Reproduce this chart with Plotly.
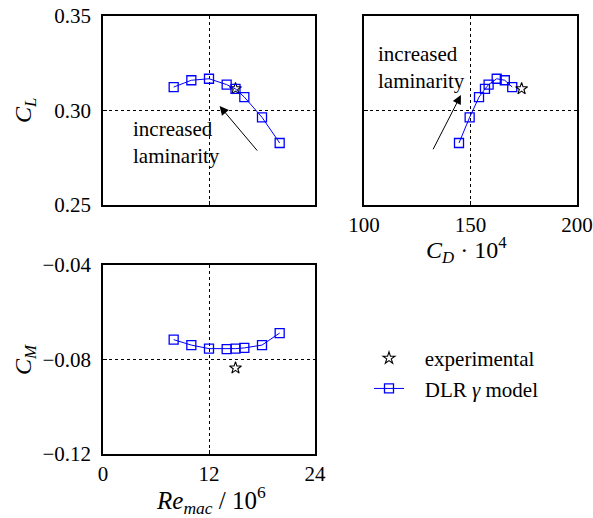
import plotly.graph_objects as go

# Reynolds-number sweep, DLR gamma transition model
re_mac = [8, 10, 12, 14, 15, 16, 18, 20]
cl_model = [0.3124, 0.3160, 0.3168, 0.3137, 0.3114, 0.3071, 0.2964, 0.2828]
cd_model = [169.6, 166.1, 162.3, 158.5, 156.8, 154.0, 149.6, 144.6]
cm_model = [-0.0716, -0.0739, -0.0754, -0.0756, -0.0754, -0.0751, -0.0739, -0.0688]

# wind-tunnel reference point
re_exp = [15]
cl_exp = [0.3115]
cd_exp = [174.0]
cm_exp = [-0.0836]

FONT = "'Liberation Serif', 'DejaVu Serif', serif"
W, H = 593, 518
BLUE = "#0000ff"

def px_x(p):
    return p / W

def px_y(p):
    return 1 - p / H

fig = go.Figure()

model_style = dict(mode="lines+markers",
                   line=dict(color=BLUE, width=1),
                   marker=dict(symbol="square-open", size=9, color=BLUE,
                               line=dict(width=1.3, color=BLUE)))
exp_style = dict(mode="markers",
                 marker=dict(symbol="star-open", size=9, color="black",
                             line=dict(width=1.1, color="black")))

# experimental traces first so they lead the legend
fig.add_trace(go.Scatter(x=re_exp, y=cl_exp, name="\u00a0\u00a0\u00a0experimental",
                         xaxis="x", yaxis="y", showlegend=True, **exp_style))
fig.add_trace(go.Scatter(x=re_mac, y=cl_model, name="\u00a0\u00a0\u00a0DLR <i>γ</i> model",
                         xaxis="x", yaxis="y", showlegend=True, **model_style))
fig.add_trace(go.Scatter(x=cd_model, y=cl_model, xaxis="x2", yaxis="y2",
                         showlegend=False, **model_style))
fig.add_trace(go.Scatter(x=cd_exp, y=cl_exp, xaxis="x2", yaxis="y2",
                         showlegend=False, **exp_style))
fig.add_trace(go.Scatter(x=re_mac, y=cm_model, xaxis="x3", yaxis="y3",
                         showlegend=False, **model_style))
fig.add_trace(go.Scatter(x=re_exp, y=cm_exp, xaxis="x3", yaxis="y3",
                         showlegend=False, **exp_style))

def axis(domain, rng, tickvals, ticktext, anchor, labels=True, standoff=6):
    return dict(domain=domain, range=rng, tickvals=tickvals, ticktext=ticktext,
                anchor=anchor, showline=True, mirror=True, linecolor="black",
                linewidth=1.6, ticks="inside", ticklen=4, tickcolor="black",
                showgrid=True, gridcolor="black", griddash="dot", gridwidth=1,
                zeroline=False, showticklabels=labels, ticklabelstandoff=standoff,
                tickfont=dict(family=FONT, size=21, color="black"),
                automargin=False, fixedrange=True)

left_dom = [px_x(103), px_x(315)]
right_dom = [px_x(364), px_x(577)]
top_dom = [px_y(205), px_y(16)]
bot_dom = [px_y(454), px_y(265)]

re_ticks = [0, 12, 24]
cd_ticks = [100, 150, 200]
cl_ticks = [0.25, 0.30, 0.35]
cm_ticks = [-0.12, -0.08, -0.04]

fig.update_layout(
    width=W, height=H, template="none",
    margin=dict(l=0, r=0, t=0, b=0),
    paper_bgcolor="white", plot_bgcolor="white",
    xaxis=axis(left_dom, [0, 24], re_ticks, [str(v) for v in re_ticks], "y", labels=False),
    yaxis=axis(top_dom, [0.25, 0.35], cl_ticks, ["0.25", "0.30", "0.35"], "x"),
    xaxis2=axis(right_dom, [100, 200], cd_ticks, [str(v) for v in cd_ticks], "y2", standoff=0),
    yaxis2=axis(top_dom, [0.25, 0.35], cl_ticks, ["0.25", "0.30", "0.35"], "x2", labels=False),
    xaxis3=axis(left_dom, [0, 24], re_ticks, [str(v) for v in re_ticks], "y3", standoff=0),
    yaxis3=axis(bot_dom, [-0.12, -0.04], cm_ticks, ["\u22120.12", "\u22120.08", "\u22120.04"], "x3"),
    legend=dict(x=px_x(369), y=px_y(338), xanchor="left", yanchor="top",
                bgcolor="rgba(0,0,0,0)", borderwidth=0,
                font=dict(family=FONT, size=21, color="black"),
                itemwidth=30, tracegroupgap=0),
    showlegend=True,
    font=dict(family=FONT, size=21, color="black"),
)

title_font = dict(family=FONT, size=24, color="black")
# axis titles
fig.add_annotation(text="<i>C</i><sub><i>L</i></sub>", xref="paper", yref="paper",
                   x=px_x(25), y=px_y(111), textangle=-90, showarrow=False,
                   font=title_font, xanchor="center", yanchor="middle")
fig.add_annotation(text="<i>C</i><sub><i>M</i></sub>", xref="paper", yref="paper",
                   x=px_x(25), y=px_y(360), textangle=-90, showarrow=False,
                   font=title_font, xanchor="center", yanchor="middle")
fig.add_annotation(text="<i>C</i><sub><i>D</i></sub> · 10<sup>4</sup>", xref="paper", yref="paper",
                   x=px_x(466), y=px_y(250), showarrow=False,
                   font=title_font, xanchor="center", yanchor="middle")
fig.add_annotation(text="<i>Re</i><sub><i>mac</i></sub> / 10<sup>6</sup>", xref="paper", yref="paper",
                   x=px_x(211), y=px_y(500), showarrow=False,
                   font=dict(family=FONT, size=25, color="black"),
                   xanchor="center", yanchor="middle")

# trend arrows with their notes
note_font = dict(family=FONT, size=21, color="black")
fig.add_annotation(text="increased<br>laminarity", xref="x", yref="y",
                   x=3.2, y=0.2833, showarrow=False, align="left",
                   xanchor="left", yanchor="middle", font=note_font)
fig.add_annotation(x=13.2, y=0.3024, ax=17.6, ay=0.2780, xref="x", yref="y",
                   axref="x", ayref="y", text="", showarrow=True,
                   arrowhead=2, arrowsize=1.8, arrowwidth=1, arrowcolor="black")
fig.add_annotation(text="increased<br>laminarity", xref="x2", yref="y2",
                   x=105.6, y=0.3228, showarrow=False, align="left",
                   xanchor="left", yanchor="middle", font=note_font)
fig.add_annotation(x=145.5, y=0.3082, ax=132.1, ay=0.2787, xref="x2", yref="y2",
                   axref="x2", ayref="y2", text="", showarrow=True,
                   arrowhead=2, arrowsize=1.8, arrowwidth=1, arrowcolor="black")

fig.write_html("out.html")
